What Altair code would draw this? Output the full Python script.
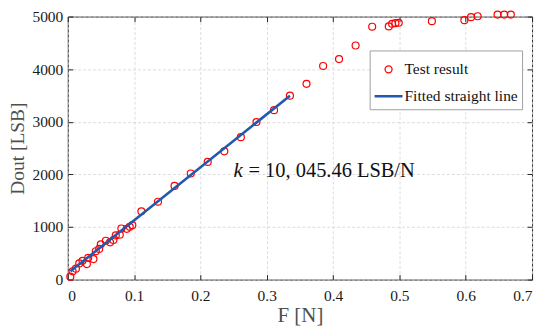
import altair as alt
import pandas as pd

# Test result points (F [N], Dout [LSB])
F_test = [0.0038, 0.0073, 0.0123, 0.0173, 0.0222, 0.0288, 0.0308, 0.0387, 0.0423, 0.0473,
          0.0498, 0.0574, 0.0638, 0.0688, 0.0724, 0.0784, 0.0808, 0.0889, 0.0934, 0.0973,
          0.111, 0.136, 0.161, 0.1854, 0.211, 0.236, 0.261, 0.2845, 0.311, 0.335,
          0.360, 0.385, 0.409, 0.434, 0.459, 0.484, 0.489, 0.494, 0.499, 0.549,
          0.598, 0.608, 0.618, 0.648, 0.658, 0.668]
D_test = [56, 157, 207, 307, 357, 295, 414, 389, 539, 583,
          671, 739, 709, 752, 840, 852, 971, 965, 1003, 1034,
          1297, 1480, 1780, 2017, 2237, 2438, 2707, 2995, 3221, 3497,
          3722, 4061, 4192, 4450, 4807, 4813, 4863, 4875, 4882, 4913,
          4931, 4988, 5006, 5038, 5038, 5038]

# Fitted straight line endpoints
F_fit = [0.004, 0.335]
D_fit = [157, 3495]

series_names = ["Test result", "Fitted straight line"]
series_colors = ["#ff0000", "#2258ad"]

x_ticks = [0, 0.1, 0.2, 0.3, 0.4, 0.5, 0.6, 0.7]
y_ticks = [0, 1000, 2000, 3000, 4000, 5000]

# annotation
ann_k = {"F": 0.25, "D": 1955, "text": "k"}
ann_rest = {"F": 0.2725, "D": 1955, "text": "= 10, 045.46 LSB/N"}

FONT = "Liberation Serif"
CIRCLE = "M-0.25,0A0.25,0.25 0 1,1 0.25,0A0.25,0.25 0 1,1 -0.25,0Z"
LINE = "M-1,-0.04L1,-0.04M-1,0.04L1,0.04"

df_test = pd.DataFrame({"F": F_test, "D": D_test, "series": series_names[0]})
df_fit = pd.DataFrame({"F": F_fit, "D": D_fit})

xscale = alt.Scale(domain=[0, 0.7], nice=False, zero=False)
yscale = alt.Scale(domain=[0, 5000], nice=False, zero=False)

x_axis = alt.Axis(values=x_ticks, labelExpr="datum.value == 0 ? '0' : format(datum.value, '.1f')",
                  title="F [N]", grid=True, domain=False, offset=-5, tickSize=5,
                  labelPadding=9, labelFont=FONT, labelFontSize=15.5, labelColor="#1a1a1a",
                  titleFont=FONT, titleFontSize=21, titleFontWeight="normal", titleColor="#505050",
                  titleY=47, titleBaseline="alphabetic")
y_axis = alt.Axis(values=y_ticks, format="d", title="Dout [LSB]", grid=True, domain=False,
                  offset=-5, tickSize=5, labelPadding=5, labelFont=FONT, labelFontSize=15.5,
                  labelColor="#1a1a1a", titleFont=FONT, titleFontSize=19.5,
                  titleFontWeight="normal", titleColor="#505050",
                  titleX=-55, titleY=132, titleAngle=-90, titleAlign="center",
                  titleBaseline="middle")

points = alt.Chart(df_test).mark_point(filled=False, strokeWidth=1.2, size=784, opacity=1).encode(
    x=alt.X("F:Q", scale=xscale, axis=x_axis),
    y=alt.Y("D:Q", scale=yscale, axis=y_axis),
    color=alt.Color("series:N", scale=alt.Scale(domain=series_names, range=series_colors),
                    legend=alt.Legend(title=None, orient="none", legendX=303, legendY=34,
                                      fillColor="white", strokeColor="#a0a0a0", padding=4,
                                      rowPadding=3, labelOffset=1, labelFont=FONT,
                                      labelFontSize=15.5, labelColor="#111111",
                                      symbolSize=784, symbolStrokeWidth=1.3,
                                      symbolFillColor="transparent")),
    shape=alt.Shape("series:N", scale=alt.Scale(domain=series_names, range=[CIRCLE, LINE])),
)

line = alt.Chart(df_fit).mark_line(color=series_colors[1], strokeWidth=2.6).encode(
    x=alt.X("F:Q", scale=xscale, axis=None),
    y=alt.Y("D:Q", scale=yscale, axis=None),
)

text_k = alt.Chart(pd.DataFrame([ann_k])).mark_text(
    font=FONT, fontSize=21, fontStyle="italic", align="left", baseline="alphabetic", color="#111111"
).encode(x=alt.X("F:Q", scale=xscale, axis=None), y=alt.Y("D:Q", scale=yscale, axis=None), text="text:N")

text_rest = alt.Chart(pd.DataFrame([ann_rest])).mark_text(
    font=FONT, fontSize=20.5, align="left", baseline="alphabetic", color="#111111"
).encode(x=alt.X("F:Q", scale=xscale, axis=None), y=alt.Y("D:Q", scale=yscale, axis=None), text="text:N")

ticks = alt.Chart(df_test).mark_point(opacity=0).encode(
    x=alt.X("F:Q", scale=xscale, axis=alt.Axis(orient="top", values=x_ticks, labels=False, title=None,
                                               grid=False, domain=False, offset=-5, tickSize=5)),
    y=alt.Y("D:Q", scale=yscale, axis=alt.Axis(orient="right", values=y_ticks, labels=False, title=None,
                                               grid=False, domain=False, offset=-5, tickSize=5)),
)

chart = alt.layer(points, line, text_k, text_rest, ticks).resolve_axis(
    x="independent", y="independent"
).properties(
    width=466, height=264,
    autosize=alt.AutoSizeParams(type="none"),
    padding={"left": 60, "top": 8, "right": 10, "bottom": 50},
).configure_view(
    stroke="#262626", strokeWidth=1
).configure_axis(
    tickColor="#262626", tickWidth=1, gridColor="#d4d4d4", gridDash=[3, 2], gridWidth=0.8,
    labelFont=FONT, titleFont=FONT
).configure_text(
    font=FONT
).configure_legend(
    labelFont=FONT
)

chart.save("out.html", embed_options={"renderer": "svg", "actions": False})
